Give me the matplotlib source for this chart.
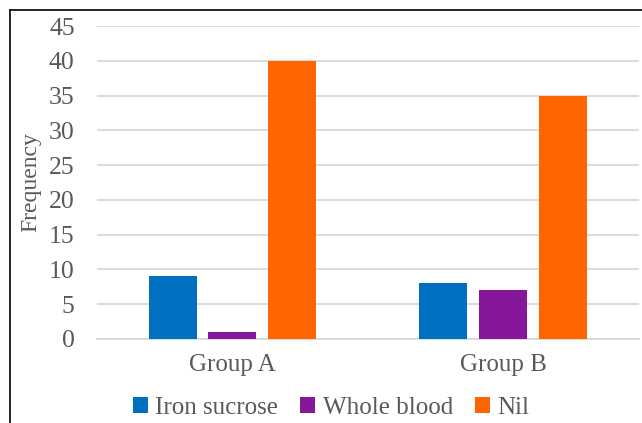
import matplotlib
matplotlib.use("Agg")
import matplotlib.pyplot as plt
from matplotlib.lines import Line2D
import numpy as np

groups = ["Group A", "Group B"]
series = ["Iron sucrose", "Whole blood", "Nil"]
iron_sucrose = [9, 8]
whole_blood = [1, 7]
nil = [40, 35]
colors = ["#0070C0", "#86169A", "#FF6600"]

plt.rcParams["font.family"] = ["Liberation Serif", "DejaVu Serif"]
text_color = "#595959"

fig = plt.figure(figsize=(6.42, 4.23), dpi=100)
ax = fig.add_axes([0.151, 0.1986, 0.844, 0.7399])

x = np.arange(len(groups))
width = 0.177
step = 0.221
for i, (name, vals) in enumerate(zip(series, [iron_sucrose, whole_blood, nil])):
    ax.bar(x + (i - 1) * step, vals, width, color=colors[i], label=name, zorder=3)

ax.set_xlim(-0.5, 1.5)
ax.set_ylim(0, 45)
ax.set_yticks(range(0, 46, 5))
ax.yaxis.grid(True, color="#D9D9D9", linewidth=1.3, zorder=0)
ax.set_axisbelow(True)
for s in ["top", "right", "left"]:
    ax.spines[s].set_visible(False)
ax.spines["bottom"].set_color("#D9D9D9")
ax.spines["bottom"].set_linewidth(1.3)
ax.tick_params(axis="both", length=0, colors=text_color)
ax.tick_params(axis="y", labelsize=18.5, pad=16)
ax.tick_params(axis="x", labelsize=18, pad=11)
ax.set_xticks(x)
ax.set_xticklabels(groups)
ax.set_ylabel("Frequency", fontsize=17, color=text_color)
ax.yaxis.set_label_coords(-0.103, 0.5)

ax.legend(loc="center", bbox_to_anchor=(0.516, 0.035), bbox_transform=fig.transFigure,
          ncol=3, frameon=False, fontsize=18, handlelength=0.6, handleheight=0.6,
          handletextpad=0.3, columnspacing=0.88, labelcolor=text_color)

# frame around the chart area
fig.add_artist(Line2D([9.5 / 642, 9.5 / 642], [0, 1 - 10.5 / 423],
                      transform=fig.transFigure, color="black", linewidth=1.2))
fig.add_artist(Line2D([9.5 / 642, 1], [1 - 10.5 / 423, 1 - 10.5 / 423],
                      transform=fig.transFigure, color="black", linewidth=1.2))

fig.savefig("out.png", dpi=100)
